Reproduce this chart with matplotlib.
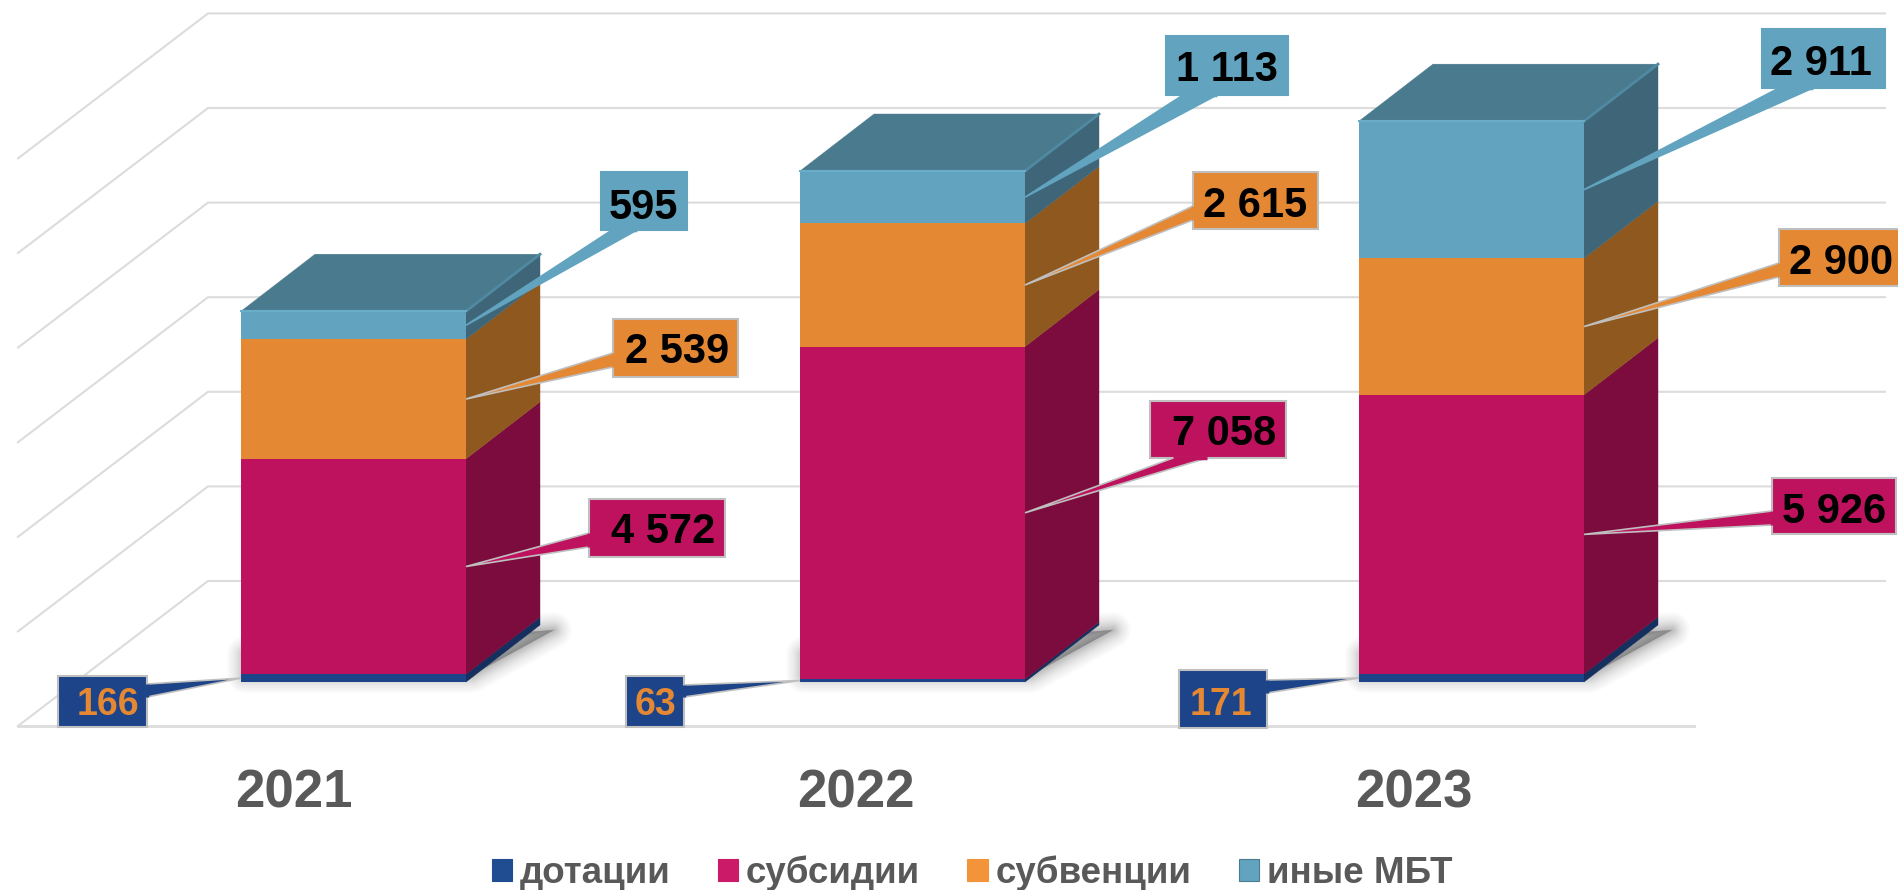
import matplotlib
matplotlib.use("Agg")
import matplotlib.pyplot as plt
from matplotlib.patches import Patch, Polygon, Rectangle
from matplotlib.transforms import Affine2D

plt.rcParams['font.family'] = ['Liberation Sans', 'DejaVu Sans']

# ---- data ----
years = ['2021', '2022', '2023']
dotations = [166, 63, 171]
subsidies = [4572, 7058, 5926]
subventions = [2539, 2615, 2900]
other = [595, 1113, 2911]
series_names = ['дотации', 'субсидии', 'субвенции', 'иные МБТ']
grid_values = [0, 2000, 4000, 6000, 8000, 10000, 12000]

# ---- style / layout ----
W, H = 1898, 890
PX_X0, PX_PER_CAT = 353.5, 559.0      # pixel of category 0, pixels per category
PX_Y0, PX_PER_VAL = 682.0, 0.0471     # pixel of value 0, pixels per unit
GRID_PX_PER_VAL = 0.0473
BAR_W = 225 / PX_PER_CAT
DX, DY = 74 / PX_PER_CAT, 57 / PX_PER_VAL
front = ['#1D4388', '#BE125F', '#E48834', '#62A4BF']
side = ['#15305F', '#7C0C3D', '#8F581F', '#3F6678']
legend_col = ['#204D92', '#CB1A67', '#F3943A', '#62A4BF']
TOP = '#4A7A8E'
GRID = '#DCDCDC'
GRAY = '#BFBFBF'
TXT = '#595959'

fig = plt.figure(figsize=(W / 100, H / 100), dpi=100, facecolor='white')
ax = fig.add_axes([0, 0, 1, 1])
ax.set_xlim((0 - PX_X0) / PX_PER_CAT, (W - PX_X0) / PX_PER_CAT)
ax.set_ylim((PX_Y0 - H) / PX_PER_VAL, PX_Y0 / PX_PER_VAL)
ax.axis('off')

px = Affine2D().scale(1, -1).translate(0, H)   # reference pixels -> display

# ---- 3-D wall and floor grid ----
WALL_L, WALL_R, FLOOR_L, FLOOR_R = 208, 1885, 18, 1694
WALL_Y0 = 581
FLOOR_DROP = 145
for v in grid_values:
    y = WALL_Y0 - v * GRID_PX_PER_VAL
    ax.plot([FLOOR_L, WALL_L, WALL_R], [y + FLOOR_DROP, y, y], transform=px,
            color=GRID, lw=1.5, zorder=1, solid_joinstyle='miter')
ax.plot([FLOOR_L, FLOOR_R], [WALL_Y0 + FLOOR_DROP] * 2, transform=px,
        color=GRID, lw=2, zorder=1)

# ---- bars ----
stack = [dotations, subsidies, subventions, other]
bottoms = [0, 0, 0]
edges = []
for vals in stack:
    seg = []
    for i, v in enumerate(vals):
        seg.append((bottoms[i], bottoms[i] + v))
        bottoms[i] += v
    edges.append(seg)

# soft floor shadow: stacked translucent strokes, widest first
STEPS = 24
for i in range(len(years)):
    x0 = PX_X0 + PX_PER_CAT * i - 112.5
    sh = [(x0 + 4, 675), (x0 + 231, 675), (x0 + 313, 630), (x0 + 4, 654)]
    for k in range(STEPS):
        frac = (k + 1) / STEPS
        ax.add_patch(Polygon(sh, closed=True, transform=px, facecolor='#505050',
                             edgecolor='#505050', lw=(1 - frac) * 38 * 0.72,
                             alpha=0.008 + 0.032 * frac ** 2, zorder=2, joinstyle='round'))

for s, vals in enumerate(stack):
    ax.bar(range(len(years)), vals, BAR_W, bottom=[e[0] for e in edges[s]],
           color=front[s], lw=0, zorder=4)
    for i in range(len(years)):
        b, t = edges[s][i]
        xr = i + BAR_W / 2
        ax.fill([xr, xr + DX, xr + DX, xr], [b, b + DY, t + DY, t],
                color=side[s], lw=0.3, zorder=3)

for i in range(len(years)):
    xl, xr = i - BAR_W / 2, i + BAR_W / 2
    t = bottoms[i]
    ax.fill([xl, xr, xr + DX, xl + DX], [t, t, t + DY, t + DY], color=TOP, lw=0.3, zorder=3)
    ax.plot([xr, xr + DX], [t, t + DY], color='#4F8AA2', lw=2, zorder=5)
    ax.plot([xl, xr], [t, t], color='#6AADC8', lw=1.5, zorder=5)

# ---- callouts ----
# x0, y0, x1, y1 of the box, edge the leader leaves by, leader base a..b, text centre x, baseline y
boxes = {
    (0, 0): (58, 676, 147, 727, 'r', 684, 697, 108, 715),
    (1, 0): (626, 676, 684, 727, 'r', 685, 697, 655, 715),
    (2, 0): (1179, 670, 1267, 728, 'r', 680, 693, 1221, 715),
    (0, 1): (589, 499, 725, 557, 'l', 533, 547, 663, 543),
    (1, 1): (1150, 401, 1286, 458, 'b', 1173, 1207, 1224, 445),
    (2, 1): (1772, 478, 1896, 534, 'l', 511, 525, 1834, 523),
    (0, 2): (613, 319, 738, 377, 'l', 353, 367, 677, 363),
    (1, 2): (1193, 172, 1318, 229, 'l', 206, 220, 1255, 217),
    (2, 2): (1779, 229, 1903, 286, 'l', 263, 277, 1841, 274),
    (0, 3): (601, 172, 687, 230, 'b', 612, 637, 643, 219),
    (1, 3): (1166, 36, 1288, 95, 'b', 1183, 1217, 1227, 81),
    (2, 3): (1762, 29, 1885, 88, 'b', 1779, 1813, 1821, 75),
}
for (i, s), (x0, y0, x1, y1, where, a, b, tx, ty) in boxes.items():
    lo, hi = edges[s][i]
    tip_x = PX_X0 + PX_PER_CAT * (i + (-BAR_W / 2 if s == 0 else BAR_W / 2))
    tip_y = PX_Y0 - PX_PER_VAL * (lo + hi) / 2
    if where == 'b':
        base = [(a, y1), (b, y1)]
    elif where == 'l':
        base = [(x0, a), (x0, b)]
    else:
        base = [(x1, a), (x1, b)]
    ec = front[s] if s == 3 else GRAY
    ax.add_patch(Polygon(base + [(tip_x, tip_y)], closed=True, transform=px, facecolor=front[s],
                         edgecolor=ec, lw=1.2, zorder=6))
    ax.add_patch(Rectangle((x0, y0), x1 - x0, y1 - y0, transform=px, facecolor=front[s],
                           edgecolor=ec, lw=1.5, zorder=7))
    # open the box border where the leader joins it
    ax.plot([p[0] for p in base], [p[1] for p in base], transform=px,
            color=front[s], lw=2.5, zorder=8, solid_capstyle='butt')
    label = f'{stack[s][i]:,}'.replace(',', ' ')
    ax.text(tx, ty, label, transform=px, ha='center', va='baseline',
            fontsize=27 if s == 0 else 30, fontweight='bold',
            color='#E48834' if s == 0 else 'black', zorder=9)

# ---- category labels ----
LABEL_X = [294, 856, 1414]
for x, y in zip(LABEL_X, years):
    ax.text(x, 807, y, transform=px, ha='center', va='baseline', fontsize=38,
            fontweight='bold', color=TXT)

# ---- legend ----
handles = [Patch(facecolor=c, edgecolor='#4A7A8E' if n == 3 else c, lw=.8)
           for n, c in enumerate(legend_col)]
ax.legend(handles, series_names, ncol=4, loc='center', frameon=False,
          bbox_to_anchor=(972, H - 873), bbox_transform=Affine2D(),
          handlelength=0.55, handleheight=0.55, handletextpad=0.22, columnspacing=1.28,
          borderpad=0, labelcolor=TXT, prop={'weight': 'bold', 'size': 26.5})

fig.savefig('out.png', dpi=100, facecolor='white')
